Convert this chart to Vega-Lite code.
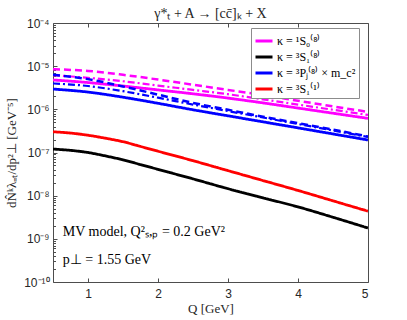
{
  "$schema": "https://vega.github.io/schema/vega-lite/v6.json",
  "width": 315,
  "height": 259,
  "autosize": {"type": "none"},
  "padding": {"left": 53, "top": 23, "right": 39, "bottom": 38},
  "background": "white",
  "config": {
    "view": {"stroke": "#4d4d4d", "strokeWidth": 1},
    "axis": {"grid": false, "domain": false, "tickColor": "#4d4d4d", "labelColor": "#262626", "titleColor": "#262626", "labelFont": "Liberation Sans", "labelFontSize": 12, "titleFont": "Liberation Serif", "titleFontSize": 13, "titleFontWeight": "normal"}
  },
  "title": {"text": "γ*ₜ + A → [cc̄]ₖ + X", "font": "Liberation Serif", "fontSize": 14, "fontWeight": "normal", "color": "#262626", "offset": -4},
  "datasets": {
    "curves": [
      {"s": "κ = ¹S₀⁽⁸⁾", "v": "solid", "Q": 0.5, "N": 4.79e-6},
      {"s": "κ = ¹S₀⁽⁸⁾", "v": "solid", "Q": 1.0, "N": 4.17e-6},
      {"s": "κ = ¹S₀⁽⁸⁾", "v": "solid", "Q": 1.5, "N": 3.47e-6},
      {"s": "κ = ¹S₀⁽⁸⁾", "v": "solid", "Q": 2.0, "N": 2.82e-6},
      {"s": "κ = ¹S₀⁽⁸⁾", "v": "solid", "Q": 2.5, "N": 2.29e-6},
      {"s": "κ = ¹S₀⁽⁸⁾", "v": "solid", "Q": 3.0, "N": 1.82e-6},
      {"s": "κ = ¹S₀⁽⁸⁾", "v": "solid", "Q": 3.5, "N": 1.41e-6},
      {"s": "κ = ¹S₀⁽⁸⁾", "v": "solid", "Q": 4.0, "N": 1.07e-6},
      {"s": "κ = ¹S₀⁽⁸⁾", "v": "solid", "Q": 4.5, "N": 8.13e-7},
      {"s": "κ = ¹S₀⁽⁸⁾", "v": "solid", "Q": 5.0, "N": 6.17e-7},
      {"s": "κ = ¹S₀⁽⁸⁾", "v": "dashed", "Q": 0.5, "N": 8.51e-6},
      {"s": "κ = ¹S₀⁽⁸⁾", "v": "dashed", "Q": 1.0, "N": 7.76e-6},
      {"s": "κ = ¹S₀⁽⁸⁾", "v": "dashed", "Q": 1.5, "N": 6.31e-6},
      {"s": "κ = ¹S₀⁽⁸⁾", "v": "dashed", "Q": 2.0, "N": 4.90e-6},
      {"s": "κ = ¹S₀⁽⁸⁾", "v": "dashed", "Q": 2.5, "N": 3.72e-6},
      {"s": "κ = ¹S₀⁽⁸⁾", "v": "dashed", "Q": 3.0, "N": 2.82e-6},
      {"s": "κ = ¹S₀⁽⁸⁾", "v": "dashed", "Q": 3.5, "N": 2.14e-6},
      {"s": "κ = ¹S₀⁽⁸⁾", "v": "dashed", "Q": 4.0, "N": 1.58e-6},
      {"s": "κ = ¹S₀⁽⁸⁾", "v": "dashed", "Q": 4.5, "N": 1.17e-6},
      {"s": "κ = ¹S₀⁽⁸⁾", "v": "dashed", "Q": 5.0, "N": 8.71e-7},
      {"s": "κ = ¹S₀⁽⁸⁾", "v": "dashdot", "Q": 0.5, "N": 6.17e-6},
      {"s": "κ = ¹S₀⁽⁸⁾", "v": "dashdot", "Q": 1.0, "N": 5.37e-6},
      {"s": "κ = ¹S₀⁽⁸⁾", "v": "dashdot", "Q": 1.5, "N": 4.47e-6},
      {"s": "κ = ¹S₀⁽⁸⁾", "v": "dashdot", "Q": 2.0, "N": 3.55e-6},
      {"s": "κ = ¹S₀⁽⁸⁾", "v": "dashdot", "Q": 2.5, "N": 2.82e-6},
      {"s": "κ = ¹S₀⁽⁸⁾", "v": "dashdot", "Q": 3.0, "N": 2.24e-6},
      {"s": "κ = ¹S₀⁽⁸⁾", "v": "dashdot", "Q": 3.5, "N": 1.70e-6},
      {"s": "κ = ¹S₀⁽⁸⁾", "v": "dashdot", "Q": 4.0, "N": 1.29e-6},
      {"s": "κ = ¹S₀⁽⁸⁾", "v": "dashdot", "Q": 4.5, "N": 9.77e-7},
      {"s": "κ = ¹S₀⁽⁸⁾", "v": "dashdot", "Q": 5.0, "N": 7.41e-7},
      {"s": "κ = ³S₁⁽⁸⁾", "v": "solid", "Q": 0.5, "N": 1.20e-7},
      {"s": "κ = ³S₁⁽⁸⁾", "v": "solid", "Q": 0.75, "N": 1.12e-7},
      {"s": "κ = ³S₁⁽⁸⁾", "v": "solid", "Q": 1.0, "N": 1.00e-7},
      {"s": "κ = ³S₁⁽⁸⁾", "v": "solid", "Q": 1.25, "N": 8.32e-8},
      {"s": "κ = ³S₁⁽⁸⁾", "v": "solid", "Q": 1.5, "N": 6.76e-8},
      {"s": "κ = ³S₁⁽⁸⁾", "v": "solid", "Q": 1.75, "N": 5.25e-8},
      {"s": "κ = ³S₁⁽⁸⁾", "v": "solid", "Q": 2.0, "N": 4.07e-8},
      {"s": "κ = ³S₁⁽⁸⁾", "v": "solid", "Q": 2.5, "N": 2.45e-8},
      {"s": "κ = ³S₁⁽⁸⁾", "v": "solid", "Q": 3.0, "N": 1.45e-8},
      {"s": "κ = ³S₁⁽⁸⁾", "v": "solid", "Q": 3.5, "N": 8.91e-9},
      {"s": "κ = ³S₁⁽⁸⁾", "v": "solid", "Q": 4.0, "N": 5.50e-9},
      {"s": "κ = ³S₁⁽⁸⁾", "v": "solid", "Q": 4.5, "N": 3.16e-9},
      {"s": "κ = ³S₁⁽⁸⁾", "v": "solid", "Q": 5.0, "N": 1.78e-9},
      {"s": "κ = ³Pⱼ⁽⁸⁾ × m_c²", "v": "solid", "Q": 0.5, "N": 2.95e-6},
      {"s": "κ = ³Pⱼ⁽⁸⁾ × m_c²", "v": "solid", "Q": 1.0, "N": 2.51e-6},
      {"s": "κ = ³Pⱼ⁽⁸⁾ × m_c²", "v": "solid", "Q": 1.5, "N": 1.91e-6},
      {"s": "κ = ³Pⱼ⁽⁸⁾ × m_c²", "v": "solid", "Q": 2.0, "N": 1.38e-6},
      {"s": "κ = ³Pⱼ⁽⁸⁾ × m_c²", "v": "solid", "Q": 2.5, "N": 9.77e-7},
      {"s": "κ = ³Pⱼ⁽⁸⁾ × m_c²", "v": "solid", "Q": 3.0, "N": 7.08e-7},
      {"s": "κ = ³Pⱼ⁽⁸⁾ × m_c²", "v": "solid", "Q": 3.5, "N": 5.13e-7},
      {"s": "κ = ³Pⱼ⁽⁸⁾ × m_c²", "v": "solid", "Q": 4.0, "N": 3.72e-7},
      {"s": "κ = ³Pⱼ⁽⁸⁾ × m_c²", "v": "solid", "Q": 4.5, "N": 2.69e-7},
      {"s": "κ = ³Pⱼ⁽⁸⁾ × m_c²", "v": "solid", "Q": 5.0, "N": 1.95e-7},
      {"s": "κ = ³Pⱼ⁽⁸⁾ × m_c²", "v": "dashed", "Q": 0.5, "N": 6.31e-6},
      {"s": "κ = ³Pⱼ⁽⁸⁾ × m_c²", "v": "dashed", "Q": 1.0, "N": 5.01e-6},
      {"s": "κ = ³Pⱼ⁽⁸⁾ × m_c²", "v": "dashed", "Q": 1.5, "N": 3.39e-6},
      {"s": "κ = ³Pⱼ⁽⁸⁾ × m_c²", "v": "dashed", "Q": 2.0, "N": 2.19e-6},
      {"s": "κ = ³Pⱼ⁽⁸⁾ × m_c²", "v": "dashed", "Q": 2.5, "N": 1.41e-6},
      {"s": "κ = ³Pⱼ⁽⁸⁾ × m_c²", "v": "dashed", "Q": 3.0, "N": 9.77e-7},
      {"s": "κ = ³Pⱼ⁽⁸⁾ × m_c²", "v": "dashed", "Q": 3.5, "N": 6.76e-7},
      {"s": "κ = ³Pⱼ⁽⁸⁾ × m_c²", "v": "dashed", "Q": 4.0, "N": 4.79e-7},
      {"s": "κ = ³Pⱼ⁽⁸⁾ × m_c²", "v": "dashed", "Q": 4.5, "N": 3.39e-7},
      {"s": "κ = ³Pⱼ⁽⁸⁾ × m_c²", "v": "dashed", "Q": 5.0, "N": 2.34e-7},
      {"s": "κ = ³Pⱼ⁽⁸⁾ × m_c²", "v": "dashdot", "Q": 0.5, "N": 3.98e-6},
      {"s": "κ = ³Pⱼ⁽⁸⁾ × m_c²", "v": "dashdot", "Q": 1.0, "N": 3.47e-6},
      {"s": "κ = ³Pⱼ⁽⁸⁾ × m_c²", "v": "dashdot", "Q": 1.5, "N": 2.63e-6},
      {"s": "κ = ³Pⱼ⁽⁸⁾ × m_c²", "v": "dashdot", "Q": 2.0, "N": 1.86e-6},
      {"s": "κ = ³Pⱼ⁽⁸⁾ × m_c²", "v": "dashdot", "Q": 2.5, "N": 1.29e-6},
      {"s": "κ = ³Pⱼ⁽⁸⁾ × m_c²", "v": "dashdot", "Q": 3.0, "N": 9.12e-7},
      {"s": "κ = ³Pⱼ⁽⁸⁾ × m_c²", "v": "dashdot", "Q": 3.5, "N": 6.46e-7},
      {"s": "κ = ³Pⱼ⁽⁸⁾ × m_c²", "v": "dashdot", "Q": 4.0, "N": 4.57e-7},
      {"s": "κ = ³Pⱼ⁽⁸⁾ × m_c²", "v": "dashdot", "Q": 4.5, "N": 3.24e-7},
      {"s": "κ = ³Pⱼ⁽⁸⁾ × m_c²", "v": "dashdot", "Q": 5.0, "N": 2.29e-7},
      {"s": "κ = ³S₁⁽¹⁾", "v": "solid", "Q": 0.5, "N": 3.02e-7},
      {"s": "κ = ³S₁⁽¹⁾", "v": "solid", "Q": 0.75, "N": 2.82e-7},
      {"s": "κ = ³S₁⁽¹⁾", "v": "solid", "Q": 1.0, "N": 2.51e-7},
      {"s": "κ = ³S₁⁽¹⁾", "v": "solid", "Q": 1.25, "N": 2.14e-7},
      {"s": "κ = ³S₁⁽¹⁾", "v": "solid", "Q": 1.5, "N": 1.78e-7},
      {"s": "κ = ³S₁⁽¹⁾", "v": "solid", "Q": 1.75, "N": 1.38e-7},
      {"s": "κ = ³S₁⁽¹⁾", "v": "solid", "Q": 2.0, "N": 1.07e-7},
      {"s": "κ = ³S₁⁽¹⁾", "v": "solid", "Q": 2.5, "N": 6.46e-8},
      {"s": "κ = ³S₁⁽¹⁾", "v": "solid", "Q": 3.0, "N": 3.80e-8},
      {"s": "κ = ³S₁⁽¹⁾", "v": "solid", "Q": 3.5, "N": 2.24e-8},
      {"s": "κ = ³S₁⁽¹⁾", "v": "solid", "Q": 4.0, "N": 1.32e-8},
      {"s": "κ = ³S₁⁽¹⁾", "v": "solid", "Q": 4.5, "N": 7.59e-9},
      {"s": "κ = ³S₁⁽¹⁾", "v": "solid", "Q": 5.0, "N": 4.37e-9}
    ],
    "notes": [
      {"Q": 0.64, "N": 1.45e-9, "t": "MV model,  Q²ₛ,ₚ =  0.2 GeV²"},
      {"Q": 0.64, "N": 3.2e-10, "t": "p⊥ = 1.55 GeV"}
    ]
  },
  "resolve": {"axis": {"y": "independent", "x": "independent"}},
  "layer": [
    {
      "data": {"name": "curves"},
      "mark": {"type": "line", "interpolate": "monotone", "clip": true},
      "encoding": {
        "x": {"field": "Q", "type": "quantitative", "scale": {"domain": [0.5, 5], "nice": false, "zero": false},
              "axis": {"values": [1, 2, 3, 4, 5], "format": "d", "tickSize": -4, "labelPadding": 10, "title": "Q [GeV]", "titlePadding": 3}},
        "y": {"field": "N", "type": "quantitative", "scale": {"type": "log", "domain": [1e-10, 1e-4], "nice": false},
              "axis": {"orient": "left", "values": [1e-10, 1e-9, 1e-8, 1e-7, 1e-6, 1e-5, 1e-4], "tickSize": -4,
                       "labelPadding": 8,
                       "labelExpr": "datum.value < 5e-10 ? '10⁻¹⁰' : '10⁻' + ['⁰','¹','²','³','⁴','⁵','⁶','⁷','⁸','⁹'][round(-log(datum.value)/LN10)]",
                       "title": "dN̂ᵏλ₌ₜ/dp²⊥ [GeV⁻⁵]", "titlePadding": 5}},
        "color": {"field": "s", "type": "nominal",
                  "scale": {"domain": ["κ = ¹S₀⁽⁸⁾", "κ = ³S₁⁽⁸⁾", "κ = ³Pⱼ⁽⁸⁾ × m_c²", "κ = ³S₁⁽¹⁾"], "range": ["#ff00ff", "#000000", "#0000ff", "#ff0000"]},
                  "legend": {"title": null, "orient": "none", "legendX": 198, "legendY": 5, "symbolType": "stroke", "symbolSize": 289, "symbolStrokeWidth": 3,
                             "labelFont": "Liberation Serif", "labelFontSize": 12, "labelColor": "#000000", "rowPadding": 0, "padding": 3, "labelOffset": 3,
                             "fillColor": "white", "strokeColor": "#8c8c8c", "labelLimit": 200}},
        "strokeDash": {"field": "v", "type": "nominal", "scale": {"domain": ["solid", "dashed", "dashdot"], "range": [[1, 0], [7, 4], [7, 3, 2, 3]]}, "legend": null},
        "strokeWidth": {"field": "v", "type": "nominal", "scale": {"domain": ["solid", "dashed", "dashdot"], "range": [2.8, 2.2, 2.2]}, "legend": null}
      }
    },
    {
      "data": {"name": "notes"},
      "mark": {"type": "text", "align": "left", "baseline": "middle", "font": "Liberation Serif", "fontSize": 14, "color": "#000000"},
      "encoding": {
        "x": {"field": "Q", "type": "quantitative", "axis": {"orient": "top", "values": [1, 2, 3, 4, 5], "labels": false, "tickSize": -4, "title": null}},
        "y": {"field": "N", "type": "quantitative",
              "axis": {"orient": "left", "values": [2e-10,3e-10,4e-10,5e-10,6e-10,7e-10,8e-10,9e-10,2e-9,3e-9,4e-9,5e-9,6e-9,7e-9,8e-9,9e-9,2e-8,3e-8,4e-8,5e-8,6e-8,7e-8,8e-8,9e-8,2e-7,3e-7,4e-7,5e-7,6e-7,7e-7,8e-7,9e-7,2e-6,3e-6,4e-6,5e-6,6e-6,7e-6,8e-6,9e-6,2e-5,3e-5,4e-5,5e-5,6e-5,7e-5,8e-5,9e-5], "labels": false, "tickSize": -2.5, "title": null}},
        "text": {"field": "t"}
      }
    }
  ]
}
